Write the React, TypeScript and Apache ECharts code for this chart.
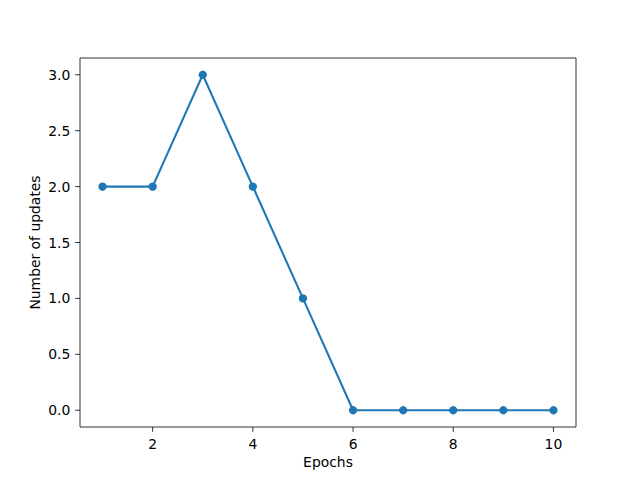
import React, { useEffect, useRef } from "react";
import * as echarts from "echarts";

const epochs = [1, 2, 3, 4, 5, 6, 7, 8, 9, 10];
const updates = [2, 2, 3, 2, 1, 0, 0, 0, 0, 0];
const xTicks = [2, 4, 6, 8, 10];
const yTicks = [0, 0.5, 1, 1.5, 2, 2.5, 3];
const xTitle = "Epochs";
const yTitle = "Number of updates";

const X_MIN = 0.55;
const X_MAX = 10.45;
const Y_MIN = -0.15;
const Y_MAX = 3.15;

const FONT = "DejaVu Sans";
const FS = 13.9;
const TICK = 4.86;
const PAD = 4.86;

export default function App() {
  const ref = useRef<HTMLDivElement>(null);
  useEffect(() => {
    if (!ref.current) return;
    const chart = echarts.init(ref.current, null, { renderer: "svg" });
    chart.setOption({
      animation: false,
      backgroundColor: "#ffffff",
      grid: {
        left: 80,
        right: 64,
        top: 58,
        bottom: 53,
        containLabel: false,
        show: true,
        borderColor: "#000000",
        borderWidth: 0.8,
        backgroundColor: "transparent",
      },
      xAxis: {
        type: "value",
        min: X_MIN,
        max: X_MAX,
        axisLine: { show: false },
        axisTick: { show: false },
        axisLabel: { show: false },
        splitLine: { show: false },
        name: xTitle,
        nameLocation: "middle",
        nameGap: 28,
        nameTextStyle: { fontFamily: FONT, fontSize: FS, color: "#000" },
      },
      yAxis: {
        type: "value",
        min: Y_MIN,
        max: Y_MAX,
        axisLine: { show: false },
        axisTick: { show: false },
        axisLabel: { show: false },
        splitLine: { show: false },
        name: yTitle,
        nameLocation: "middle",
        nameGap: 38,
        nameTextStyle: { fontFamily: FONT, fontSize: FS, color: "#000" },
      },
      series: [
        {
          type: "custom",
          clip: false,
          silent: true,
          data: yTicks.map((v) => [X_MIN, v]),
          renderItem: (params: any, api: any) => {
            const v = api.value(1);
            const y = api.coord([X_MIN, v])[1];
            const x0 = params.coordSys.x;
            return {
              type: "group",
              children: [
                {
                  type: "line",
                  shape: { x1: x0 - TICK, y1: y, x2: x0, y2: y },
                  style: { stroke: "#000", lineWidth: 0.8 },
                },
                {
                  type: "text",
                  x: x0 - TICK - PAD,
                  y: y,
                  style: {
                    text: v.toFixed(1),
                    align: "right",
                    verticalAlign: "middle",
                    fontFamily: FONT,
                    fontSize: FS,
                    fill: "#000",
                  },
                },
              ],
            };
          },
        },
        {
          type: "custom",
          clip: false,
          silent: true,
          data: xTicks.map((v) => [v, Y_MIN]),
          renderItem: (params: any, api: any) => {
            const v = api.value(0);
            const x = api.coord([v, Y_MIN])[0];
            const y0 = params.coordSys.y + params.coordSys.height;
            return {
              type: "group",
              children: [
                {
                  type: "line",
                  shape: { x1: x, y1: y0, x2: x, y2: y0 + TICK },
                  style: { stroke: "#000", lineWidth: 0.8 },
                },
                {
                  type: "text",
                  x: x,
                  y: y0 + TICK + PAD,
                  style: {
                    text: String(v),
                    align: "center",
                    verticalAlign: "top",
                    fontFamily: FONT,
                    fontSize: FS,
                    fill: "#000",
                  },
                },
              ],
            };
          },
        },
        {
          type: "line",
          data: epochs.map((e, i) => [e, updates[i]]),
          symbol: "circle",
          symbolSize: 8.3,
          showSymbol: true,
          z: 5,
          itemStyle: { color: "#1f77b4" },
          lineStyle: { color: "#1f77b4", width: 2.08 },
        },
      ],
    });
    return () => chart.dispose();
  }, []);
  return <div ref={ref} style={{ width: 640, height: 480, position: "absolute", left: 0, top: 0 }} />;
}
